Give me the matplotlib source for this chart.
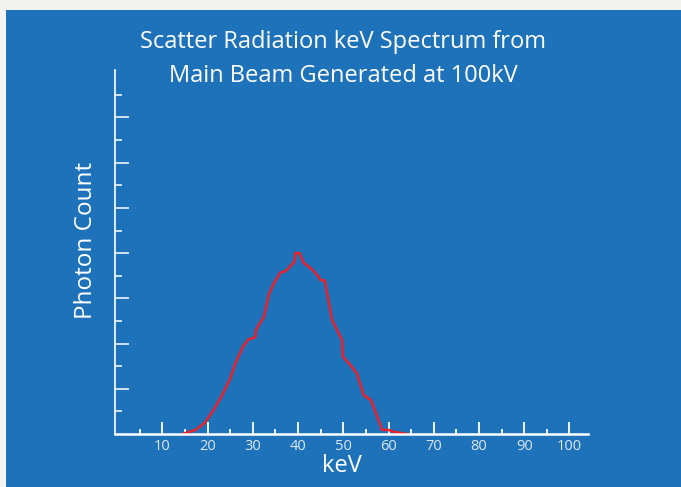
import matplotlib
matplotlib.use("Agg")
import matplotlib.pyplot as plt
from matplotlib.patches import Rectangle

kev = [14.4, 17.3, 19.3, 21.3, 23.2, 25.0, 26.1, 27.8, 29.0, 30.5, 30.7, 31.4, 32.4,
       33.5, 34.6, 36.1, 37.2, 39.2, 39.4, 40.3, 41.2, 43.1, 44.5, 44.9, 45.9, 47.5,
       48.6, 49.7, 49.9, 51.5, 53.0, 53.8, 54.5, 56.1, 57.5, 58.6, 60.0, 61.1, 64.2]
counts = [0.0, 0.09, 0.24, 0.53, 0.86, 1.23, 1.56, 1.93, 2.09, 2.14, 2.30, 2.43, 2.58,
          3.08, 3.33, 3.57, 3.60, 3.81, 4.0, 4.0, 3.79, 3.64, 3.48, 3.41, 3.39, 2.52,
          2.30, 2.08, 1.71, 1.53, 1.34, 1.08, 0.86, 0.75, 0.38, 0.09, 0.09, 0.05, 0.0]
xticks_major = [10, 20, 30, 40, 50, 60, 70, 80, 90, 100]
xtick_labels = ["10", "20", "30", "40", "50", "60", "70", "80", "90", "100"]
xticks_minor = [5, 15, 25, 35, 45, 55, 65, 75, 85, 95]
yticks_major = [1, 2, 3, 4, 5, 6, 7]
yticks_minor = [0.5, 1.5, 2.5, 3.5, 4.5, 5.5, 6.5, 7.5]
title_lines = ["Scatter Radiation keV Spectrum from", "Main Beam Generated at 100kV"]

FONT = ["Open Sans", "DejaVu Sans"]
BLUE = "#1e72b9"
W, H = 681, 487
fig = plt.figure(figsize=(W / 100, H / 100), dpi=100)
fig.patch.set_facecolor("#f3f3f1")
bg = Rectangle((6 / W, 0), 1 - 6 / W, 1 - 10 / H, transform=fig.transFigure,
               facecolor=BLUE, edgecolor="none", zorder=-10)
fig.add_artist(bg)

ax = fig.add_axes([114.5 / W, (H - 434) / H, (588 - 114.5) / W, (434 - 70) / H])
ax.set_zorder(5)
ax.set_facecolor("none")
ax.plot(kev, counts, color="#e8202a", lw=1.8, solid_joinstyle="miter", clip_on=False)
ax.set_xlim(-0.6, 104.1)
ax.set_ylim(0, 8.05)
for s in ["top", "right"]:
    ax.spines[s].set_visible(False)
ax.spines["bottom"].set_color("white")
ax.spines["bottom"].set_linewidth(1.8)
ax.spines["left"].set_color("white")
ax.spines["left"].set_linewidth(1.2)

ax.set_xticks(xticks_major)
ax.set_xticklabels(xtick_labels, fontfamily=FONT, fontsize=10.5, color="#dde7f2")
ax.set_xticks(xticks_minor, minor=True)
ax.set_yticks(yticks_major)
ax.set_yticklabels([])
ax.set_yticks(yticks_minor, minor=True)
ax.tick_params(axis="x", which="major", direction="in", length=8.5, width=1.3, color="white", pad=3.5)
ax.tick_params(axis="x", which="minor", direction="in", length=3.5, width=1.3, color="white")
ax.tick_params(axis="y", which="major", direction="in", length=10, width=1.1, color="white")
ax.tick_params(axis="y", which="minor", direction="in", length=5, width=1.1, color="white")

fig.text(343 / W, 1 - 48.5 / H, title_lines[0], ha="center", va="baseline",
         fontfamily=FONT, fontsize=17, color="white")
fig.text(343 / W, 1 - 81.7 / H, title_lines[1], ha="center", va="baseline",
         fontfamily=FONT, fontsize=17, color="white")
fig.text(86 / W, 1 - 240.5 / H, "Photon Count", ha="center", va="center", rotation=90,
         fontfamily=FONT, fontsize=17.5, color="white")
fig.text(341.7 / W, 1 - 471.7 / H, "keV", ha="center", va="baseline",
         fontfamily=FONT, fontsize=17, color="white")

fig.savefig("out.png", dpi=100)
